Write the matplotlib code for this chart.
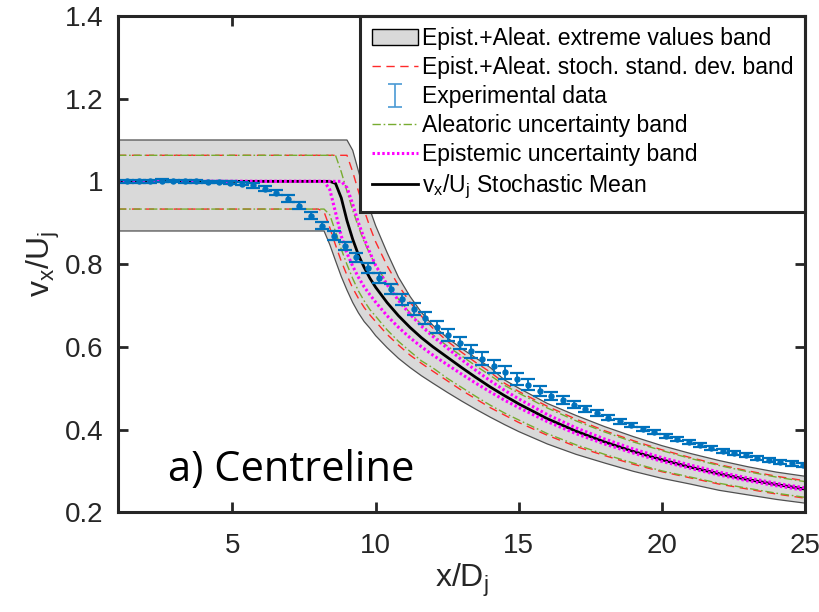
import numpy as np
import matplotlib
matplotlib.use("Agg")
from matplotlib import pyplot as plt
from matplotlib.patches import Patch

plt.rcParams['font.family'] = ['Liberation Sans', 'DejaVu Sans']
plt.rcParams['mathtext.fontset'] = 'custom'
plt.rcParams['mathtext.rm'] = 'Liberation Sans'

# %% data
# experimental centreline points
x_exp = [1.33, 1.73, 2.13, 2.53, 2.93, 3.33, 3.73, 4.13, 4.53, 4.93,
         5.33, 5.73, 6.13, 6.53, 6.93, 7.33, 7.73, 8.13, 8.53, 8.93,
         9.33, 9.73, 10.13, 10.53, 10.93, 11.33, 11.73, 12.13, 12.53, 12.93,
         13.33, 13.73, 14.13, 14.53, 14.93, 15.33, 15.73, 16.13, 16.53, 16.93,
         17.33, 17.73, 18.13, 18.53, 18.93, 19.33, 19.73, 20.13, 20.53, 20.93,
         21.33, 21.73, 22.13, 22.53, 22.93, 23.33, 23.73, 24.13, 24.53, 24.93]
y_exp = [1.0, 1.0, 1.0, 1.002, 1.001, 1.0, 1.0, 0.999, 0.998, 0.997,
         0.994, 0.99, 0.982, 0.973, 0.958, 0.941, 0.917, 0.893, 0.869, 0.844,
         0.816, 0.79, 0.766, 0.74, 0.715, 0.692, 0.670, 0.648, 0.629, 0.609,
         0.589, 0.571, 0.553, 0.538, 0.522, 0.508, 0.494, 0.481, 0.471, 0.46,
         0.449, 0.439, 0.429, 0.42, 0.411, 0.402, 0.393, 0.385, 0.377, 0.37,
         0.362, 0.355, 0.349, 0.344, 0.339, 0.332, 0.326, 0.321, 0.318, 0.315]
err_exp = [0.003, 0.003, 0.003, 0.003, 0.003, 0.003, 0.003, 0.003, 0.003, 0.003,
           0.004, 0.005, 0.006, 0.007, 0.008, 0.008, 0.009, 0.009, 0.010, 0.010,
           0.011, 0.012, 0.012, 0.013, 0.013, 0.014, 0.014, 0.015, 0.015, 0.015,
           0.016, 0.016, 0.016, 0.015, 0.014, 0.013, 0.012, 0.010, 0.009, 0.008,
           0.007, 0.007, 0.006, 0.006, 0.005, 0.005, 0.005, 0.005, 0.005, 0.005,
           0.005, 0.005, 0.005, 0.005, 0.005, 0.005, 0.005, 0.005, 0.005, 0.005]

# simulated curves, common abscissa
x_sim = [1.0, 8.0, 8.2, 8.4, 8.6, 8.8, 9.0, 9.2, 9.4, 9.6, 9.8, 10.0, 10.4, 10.8,
         11.2, 11.6, 12.0, 12.5, 13.0, 13.5, 14.0, 14.5, 15.0, 16.0, 17.0, 18.0,
         19.0, 20.0, 21.0, 22.0, 23.0, 24.0, 25.0]
mean = [1.0, 1.0, 1.0, 1.0, 0.995, 0.96, 0.905, 0.86, 0.822, 0.792, 0.766, 0.744,
        0.707, 0.675, 0.647, 0.622, 0.600, 0.575, 0.550, 0.526, 0.503, 0.482,
        0.462, 0.426, 0.396, 0.370, 0.347, 0.327, 0.309, 0.293, 0.279, 0.267, 0.256]
ext_hi = [1.1, 1.1, 1.1, 1.1, 1.1, 1.1, 1.1, 1.075, 1.025, 0.975, 0.932, 0.893,
          0.828, 0.768, 0.722, 0.683, 0.652, 0.622, 0.596, 0.573, 0.55, 0.52,
          0.500, 0.463, 0.434, 0.407, 0.383, 0.361, 0.342, 0.325, 0.310, 0.297, 0.287]
ext_lo = [0.88, 0.88, 0.88, 0.847, 0.808, 0.77, 0.737, 0.707, 0.682, 0.661, 0.645,
          0.627, 0.598, 0.572, 0.55, 0.53, 0.512, 0.49, 0.469, 0.449, 0.43, 0.412,
          0.395, 0.365, 0.34, 0.319, 0.299, 0.282, 0.268, 0.253, 0.242, 0.231, 0.222]
std_hi = [1.063, 1.063, 1.063, 1.063, 1.063, 1.063, 1.063, 1.023, 0.976, 0.93,
          0.89, 0.854, 0.796, 0.748, 0.708, 0.674, 0.645, 0.614, 0.587, 0.562,
          0.539, 0.512, 0.492, 0.456, 0.425, 0.397, 0.373, 0.351, 0.332, 0.315,
          0.300, 0.287, 0.276]
std_lo = [0.933, 0.933, 0.926, 0.888, 0.846, 0.807, 0.773, 0.742, 0.717, 0.695,
          0.677, 0.661, 0.63, 0.604, 0.58, 0.56, 0.541, 0.518, 0.495, 0.474, 0.453,
          0.435, 0.417, 0.386, 0.359, 0.337, 0.316, 0.298, 0.283, 0.268, 0.256,
          0.244, 0.234]
ale_hi = [1.063, 1.063, 1.063, 1.063, 1.063, 1.023, 0.976, 0.93, 0.89, 0.854,
          0.824, 0.798, 0.754, 0.715, 0.682, 0.654, 0.629, 0.602, 0.578, 0.554,
          0.531, 0.507, 0.488, 0.452, 0.421, 0.394, 0.370, 0.349, 0.330, 0.313,
          0.298, 0.285, 0.274]
ale_lo = [0.933, 0.933, 0.933, 0.919, 0.878, 0.836, 0.799, 0.765, 0.735, 0.711,
          0.69, 0.674, 0.641, 0.613, 0.589, 0.566, 0.549, 0.524, 0.502, 0.48,
          0.459, 0.44, 0.423, 0.39, 0.363, 0.34, 0.319, 0.3, 0.285, 0.27, 0.258,
          0.246, 0.236]
epi_hi = [1.0, 1.0, 1.0, 1.0, 1.0, 1.0, 0.985, 0.945, 0.9, 0.862, 0.828, 0.797,
          0.75, 0.712, 0.679, 0.65, 0.625, 0.597, 0.569, 0.543, 0.518, 0.495,
          0.474, 0.436, 0.404, 0.377, 0.353, 0.332, 0.314, 0.297, 0.283, 0.27, 0.259]
epi_lo = [1.0, 1.0, 1.0, 0.98, 0.925, 0.868, 0.826, 0.795, 0.768, 0.745, 0.726,
          0.708, 0.675, 0.647, 0.622, 0.6, 0.58, 0.557, 0.534, 0.512, 0.491, 0.471,
          0.453, 0.419, 0.39, 0.365, 0.343, 0.323, 0.306, 0.29, 0.276, 0.264, 0.253]

# %% colours
C_BAND = '#d9d9d9'
C_RED = '#ff2a2a'
C_GREEN = '#77ac30'
C_PINK = '#ff00ff'
C_BLUE = '#0072bd'
C_AX = '#262626'
DASH = (0, (6, 4))
DASHDOT = (0, (6, 2, 1.2, 2))
DOT = (0, (0.8, 0.8))

fig = plt.figure(figsize=(8.19, 6.12), dpi=100)
ax = fig.add_axes([0.144, 0.163, 0.839, 0.811])

ax.fill_between(x_sim, ext_lo, ext_hi, facecolor=C_BAND, edgecolor='none', zorder=1)
ax.plot(x_sim, ext_hi, color='#505050', lw=0.9, zorder=2)
ax.plot(x_sim, ext_lo, color='#505050', lw=0.9, zorder=2)

ax.plot(x_sim, std_hi, color=C_RED, lw=1.0, ls=DASH, zorder=3)
ax.plot(x_sim, std_lo, color=C_RED, lw=1.0, ls=DASH, zorder=3)
ax.plot(x_sim, ale_hi, color=C_GREEN, lw=1.0, ls=DASHDOT, zorder=3)
ax.plot(x_sim, ale_lo, color=C_GREEN, lw=1.0, ls=DASHDOT, zorder=3)
ax.plot(x_sim, mean, color='black', lw=2.0, zorder=4)
ax.plot(x_sim, epi_hi, color=C_PINK, lw=2.2, ls=DOT, zorder=5)
ax.plot(x_sim, epi_lo, color=C_PINK, lw=2.2, ls=DOT, zorder=5)

ax.errorbar(x_exp, y_exp, yerr=err_exp, fmt='o', ms=3.6, color=C_BLUE,
            ecolor=C_BLUE, elinewidth=1.3, capsize=5, capthick=1.6, zorder=6)

# proxies for the legend
h_band = Patch(facecolor=C_BAND, edgecolor='black', lw=1.0)
h_red, = ax.plot([], [], color=C_RED, lw=1.0, ls=DASH)
h_exp = ax.errorbar([-10], [0], yerr=[1], fmt='none', ecolor='#4a9ad4',
                    elinewidth=1.2, capsize=5, capthick=1.2)
h_green, = ax.plot([], [], color=C_GREEN, lw=1.0, ls=DASHDOT)
h_pink, = ax.plot([], [], color=C_PINK, lw=2.2, ls=DOT)
h_mean, = ax.plot([], [], color='black', lw=2.0)

leg = ax.legend([h_band, h_red, h_exp, h_green, h_pink, h_mean],
                ['Epist.+Aleat. extreme values band',
                 'Epist.+Aleat. stoch. stand. dev. band',
                 'Experimental data',
                 'Aleatoric uncertainty band',
                 'Epistemic uncertainty band',
                 r'v$\mathregular{_x}$/U$\mathregular{_j}$ Stochastic Mean'],
                loc='upper right', bbox_to_anchor=(1.0, 1.0), borderaxespad=0,
                fontsize=16.6, frameon=True, fancybox=False, framealpha=1,
                edgecolor=C_AX, handlelength=2.0, handletextpad=0.17,
                labelspacing=0.26, borderpad=0.5)
leg.get_frame().set_linewidth(2.2)
leg.set_zorder(10)

ax.text(2.75, 0.275, 'a) Centreline', fontsize=30, family='Open Sans',
        va='baseline', ha='left', zorder=7)

ax.set_xlim(1, 25)
ax.set_ylim(0.2, 1.4)
ax.set_xticks([5, 10, 15, 20, 25])
ax.set_yticks([0.2, 0.4, 0.6, 0.8, 1.0, 1.2, 1.4])
ax.set_yticklabels(['0.2', '0.4', '0.6', '0.8', '1', '1.2', '1.4'])

for s in ax.spines.values():
    s.set_linewidth(2.2)
    s.set_color(C_AX)
    s.set_zorder(11)
ax.tick_params(direction='in', length=7, width=2, colors=C_AX,
               top=True, right=True, labelsize=20, labelcolor=C_AX)
ax.tick_params(axis='x', pad=15)
ax.tick_params(axis='y', pad=10.5)

ax.set_xlabel(r'x/D$\mathregular{_j}$', fontsize=23, color=C_AX, labelpad=2)
ax.set_ylabel(r'v$\mathregular{_x}$/U$\mathregular{_j}$', fontsize=23,
              color=C_AX, labelpad=2)

fig.savefig('out.png', dpi=100)
